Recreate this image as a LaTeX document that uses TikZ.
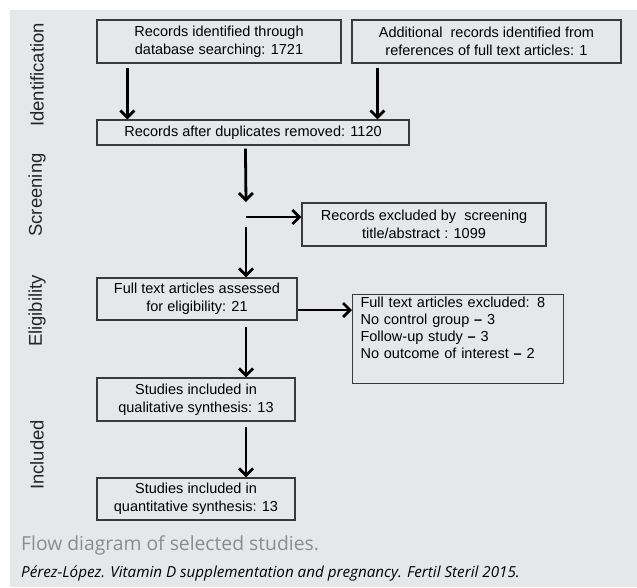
\documentclass[tikz,border=0pt]{standalone}
\usepackage{fontspec}
\setmainfont{Liberation Sans}
\newfontfamily\capfont{Open Sans}
\usetikzlibrary{positioning,arrows.meta,calc}

\definecolor{panelgray}{HTML}{E6E7E9}
\definecolor{boxline}{HTML}{3A3A3A}
\definecolor{capgray}{HTML}{8A8C8E}

\begin{document}
\begin{tikzpicture}[x=1pt,y=-1pt,
   every node/.style={font=\fontsize{14.5}{18}\selectfont},
   box/.style={draw=boxline,line width=1.1pt,align=center,inner sep=2pt},
   phase/.style={rotate=90,font=\fontsize{18.5}{20}\selectfont,text=black!85},
   flow/.style={line width=2.8pt,-{Straight Barb[length=7pt,width=14pt,line width=2.8pt]}}]
  % background panel
  \useasboundingbox (0,0) rectangle (637,587);
  \fill[white] (0,0) rectangle (637,587);
  \fill[panelgray] (10,10) rectangle (637,587);

  % phase labels
  \node[phase] (ident) at (37,75)  {Identification};
  \node[phase] (screen) at (37,195) {Screening};
  \node[phase] (elig) at (37,311)  {Eligibility};
  \node[phase] (incl) at (37,455)  {Included};

  % boxes
  \node[box,minimum width=244pt,minimum height=43pt] (rec) at (219,41.5)
    {Records identified through\\database searching: 1721};
  \node[box,minimum width=269pt,minimum height=43pt] (add) at (486.5,41.5)
    {Additional\ \ records identified from\\references of full text articles: 1};
  \node[box,minimum width=312pt,minimum height=25pt] (dup) at (253,132.5)
    {Records after duplicates removed: 1120};
  \node[box,minimum width=244pt,minimum height=43pt] (scr) at (424,224.5)
    {Records excluded by\ \ screening\\title/abstract : 1099};
  \node[box,minimum width=200pt,minimum height=42pt] (full) at (197,299)
    {Full text articles assessed\\for eligibility: 21};
  \node[box,align=left,anchor=north west,text width=195pt,inner xsep=8pt,inner ysep=2pt,
        font=\fontsize{14.5}{17.3}\selectfont] (fex) at (352,294)
    {Full text articles excluded: 8\\
     No control group \textbf{--} 3\\
     Follow-up study \textbf{--} 3\\
     No outcome of interest \textbf{--} 2\\
     \strut};
  \node[box,minimum width=198pt,minimum height=43pt] (qual) at (196,399.5)
    {Studies included in\\qualitative synthesis: 13};
  \node[box,minimum width=198pt,minimum height=42pt] (quan) at (196,499)
    {Studies included in\\quantitative synthesis: 13};

  \coordinate (split) at (246,217);

  % connectors
  \draw[flow] ([xshift=31pt,yshift=-4pt]rec.south west) -- ([xshift=31pt]rec.south west |- dup.north);
  \draw[flow] ([xshift=26pt,yshift=-4pt]add.south west) -- ([xshift=26pt]add.south west |- dup.north);
  \draw[flow] ($(dup.south west)+(149,3)$) -- ($(split)+(0,-15)$);
  \draw[flow] (split) -- (split -| scr.west);
  \draw[flow] ($(split)+(0,10)$) -- (split |- full.north);
  \draw[flow] ([yshift=-11pt]full.east) -- ([yshift=-11pt]full.east -| fex.west);
  \draw[flow] ($(split |- full.south)+(0,6)$) -- (split |- qual.north);
  \draw[flow] ($(split |- qual.south)+(0,5)$) -- (split |- quan.north);

  % caption
  \node[anchor=base west,inner sep=0pt,text=capgray,font=\capfont\fontsize{19.3}{22}\selectfont]
    (cap) at (21,550) {Flow diagram of selected studies.};
  \node[anchor=base west,inner sep=0pt,font=\capfont\itshape\fontsize{15.2}{17}\selectfont]
    (cite) at (21,577) {Pérez-López. Vitamin D supplementation and pregnancy. Fertil Steril 2015.};
\end{tikzpicture}
\end{document}
